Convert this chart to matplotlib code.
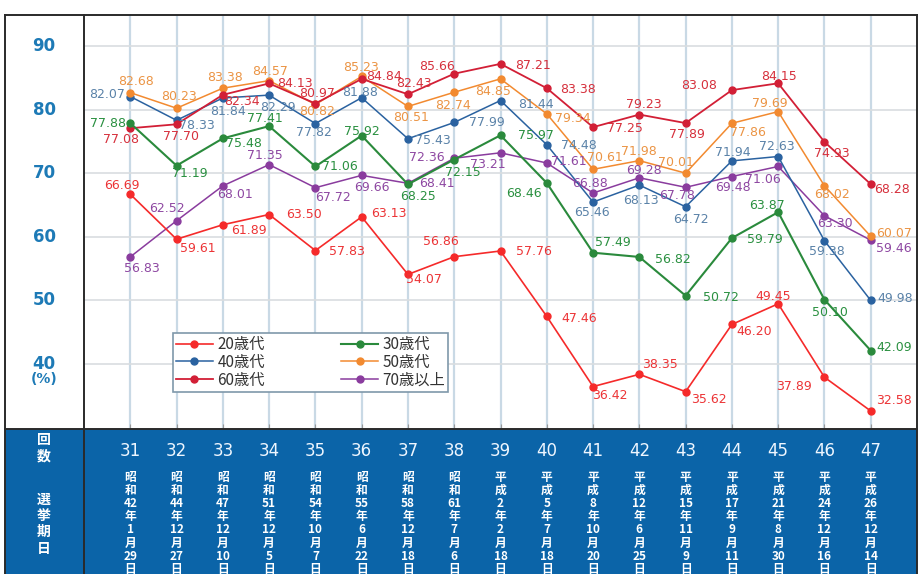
''' 年代別投票率の推移 (衆議院議員総選挙) '''
import matplotlib.pyplot as plt
from matplotlib.patches import Rectangle
from matplotlib.lines import Line2D
from matplotlib.transforms import blended_transform_factory

plt.rcParams['font.family'] = ['DejaVu Sans', 'Noto Sans CJK JP']
JP = ['Noto Sans CJK JP', 'DejaVu Sans']

# data
rounds = list(range(31, 48))
eras = ['昭和'] * 8 + ['平成'] * 9
years = [42, 44, 47, 51, 54, 55, 58, 61, 2, 5, 8, 12, 15, 17, 21, 24, 26]
months = [1, 12, 12, 12, 10, 6, 12, 7, 2, 7, 10, 6, 11, 9, 8, 12, 12]
days = [29, 27, 10, 5, 7, 22, 18, 6, 18, 18, 20, 25, 9, 11, 30, 16, 14]

age20 = [66.69, 59.61, 61.89, 63.50, 57.83, 63.13, 54.07, 56.86, 57.76,
         47.46, 36.42, 38.35, 35.62, 46.20, 49.45, 37.89, 32.58]
age30 = [77.88, 71.19, 75.48, 77.41, 71.06, 75.92, 68.25, 72.15, 75.97,
         68.46, 57.49, 56.82, 50.72, 59.79, 63.87, 50.10, 42.09]
age40 = [82.07, 78.33, 81.84, 82.29, 77.82, 81.88, 75.43, 77.99, 81.44,
         74.48, 65.46, 68.13, 64.72, 71.94, 72.63, 59.38, 49.98]
age50 = [82.68, 80.23, 83.38, 84.57, 80.82, 85.23, 80.51, 82.74, 84.85,
         79.34, 70.61, 71.98, 70.01, 77.86, 79.69, 68.02, 60.07]
age60 = [77.08, 77.70, 82.34, 84.13, 80.97, 84.84, 82.43, 85.66, 87.21,
         83.38, 77.25, 79.23, 77.89, 83.08, 84.15, 74.93, 68.28]
age70 = [56.83, 62.52, 68.01, 71.35, 67.72, 69.66, 68.41, 72.36, 73.21,
         71.61, 66.88, 69.28, 67.78, 69.48, 71.06, 63.30, 59.46]

yticks = [40, 50, 60, 70, 80, 90]

# label offsets in pixels (dx right, dy down)
offs = {
    '20歳代': [(-8, -9), (21, 9), (26, 6), (35, 0), (32, 1), (27, -3), (16, 5), (-13, -15),
              (33, 1), (32, 2), (17, 9), (21, -10), (23, 8), (22, 7), (-5, -7), (-30, 9), (23, -10)],
    '30歳代': [(-22, 0), (13, 8), (21, 5), (-4, -8), (24, 0), (0, -4), (10, 12), (9, 13),
              (35, 0), (-23, 11), (20, -10), (34, 3), (35, 2), (33, 1), (-11, -7), (5, 13), (23, -3)],
    '40歳代': [(-23, -2), (20, 5), (5, 14), (9, 12), (-1, 9), (-2, -5), (25, 2), (33, 0),
              (35, 4), (32, 1), (-1, 10), (2, 15), (5, 13), (1, -8), (-1, -10), (2, 11), (24, -2)],
    '50歳代': [(6, -11), (2, -12), (2, -11), (1, -9), (2, 7), (-1, -9), (3, 11), (-1, 13),
              (-7, 13), (26, 5), (12, -12), (0, -9), (-10, -11), (16, 9), (-8, -8), (8, 9), (23, -3)],
    '60歳代': [(-9, 11), (4, 12), (19, 7), (26, 0), (2, -10), (22, -2), (6, -11), (-17, -7),
              (32, 2), (31, 1), (32, 1), (4, -10), (1, 11), (-33, -5), (1, -7), (7, 12), (21, 5)],
    '70歳以上': [(12, 12), (-10, -12), (12, 9), (-4, -9), (18, 10), (10, 12), (29, 0), (-27, -1),
               (-13, 12), (22, -1), (-3, -10), (5, -7), (-9, 8), (1, 11), (-15, 13), (10, 8), (23, 8)],
}

series = [
    ('70歳以上', age70, '#8a3c9e', '#8e48a2', 1.1),
    ('40歳代', age40, '#2a62a0', '#5a82a8', 1.1),
    ('50歳代', age50, '#f28a30', '#eb9444', 1.1),
    ('60歳代', age60, '#d21f36', '#d6303c', 1.3),
    ('30歳代', age30, '#2a8a3c', '#2a9040', 1.5),
    ('20歳代', age20, '#f52a2a', '#ec3436', 1.2),
]

W, H = 922, 574
fig = plt.figure(figsize=(9.22, 5.74), dpi=100)


def fx(px):
    return px / W


def fy(py):
    return 1 - py / H


ax = fig.add_axes([fx(84), fy(428), fx(917) - fx(84), fy(15) - fy(428)])
x = list(range(len(rounds)))

lines = {}
for name, vals, col, lcol, lw in series:
    ln, = ax.plot(x, vals, color=col, lw=lw, marker='o', ms=5, label=name, zorder=3)
    lines[name] = ln
    for i, v in enumerate(vals):
        dx, dy = offs[name][i]
        ax.annotate(f'{v:.2f}', (i, v), xytext=(dx, -dy), textcoords='offset pixels',
                    ha='center', va='center', fontsize=9, color=lcol, zorder=4)

ax.set_xlim(-1, 17)
ax.set_ylim(29.9, 94.9)
ax.set_xticks(x)
ax.set_yticks(yticks)
ax.xaxis.grid(True, color='#c9d9e5', lw=1.6)
ax.yaxis.grid(True, color='#d9dde0', lw=1.2)
ax.set_axisbelow(True)
ax.tick_params(axis='x', direction='in', length=3, color='#999999', labelbottom=False)
ax.tick_params(axis='y', length=0, labelleft=False)
for s in ax.spines.values():
    s.set_visible(False)

# y labels in left column
ty = blended_transform_factory(fig.transFigure, ax.transData)
for v in yticks:
    fig.text(fx(44), v, str(v), transform=ty, ha='center', va='center',
             fontsize=12, fontweight='bold', color='#1d7ab6')
fig.text(fx(44), fy(379), '(%)', ha='center', va='center',
         fontsize=10, fontweight='bold', color='#1d7ab6')

# legend
order = ['20歳代', '40歳代', '60歳代', '30歳代', '50歳代', '70歳以上']
leg = ax.legend([lines[n] for n in order], order, ncol=2, loc='upper left',
                bbox_to_anchor=(fx(173), fy(333)), bbox_transform=fig.transFigure,
                prop={'family': JP, 'size': 11}, fancybox=False, framealpha=1,
                edgecolor='#7f98aa', borderpad=0.2, labelspacing=0.05,
                handlelength=2.4, handletextpad=0.3, columnspacing=5.0, borderaxespad=0)
leg.get_frame().set_linewidth(1.2)
for t in leg.get_texts():
    t.set_color('#333333')

# bottom band
fig.add_artist(Rectangle((fx(5), 0), fx(917) - fx(5), fy(429), transform=fig.transFigure,
                         facecolor='#0b64a8', edgecolor='none', zorder=0))
tb = blended_transform_factory(ax.transData, fig.transFigure)
for i, r in enumerate(rounds):
    fig.text(i, fy(451), str(r), transform=tb, ha='center', va='center',
             fontsize=12, color='#eef6ff')
    tokens = [eras[i][0], eras[i][1], str(years[i]), '年', str(months[i]), '月', str(days[i]), '日']
    for k, tok in enumerate(tokens):
        fig.text(i, fy(477 + k * 13.2), tok, transform=tb, ha='center', va='center',
                 fontsize=8.5, fontweight='bold', color='white', family=JP)

for k, ch in enumerate('回数'):
    fig.text(fx(44), fy(440 + k * 16), ch, ha='center', va='center', fontsize=10,
             fontweight='bold', color='white', family=JP)
for k, ch in enumerate('選挙期日'):
    fig.text(fx(44), fy(500 + k * 16.2), ch, ha='center', va='center', fontsize=10,
             fontweight='bold', color='white', family=JP)

# frame lines
frame = [((5, 15), (917, 15)), ((5, 15), (5, 574)), ((917, 15), (917, 574)),
         ((84, 15), (84, 574)), ((5, 429), (917, 429))]
for (x0, y0), (x1, y1) in frame:
    fig.add_artist(Line2D([fx(x0), fx(x1)], [fy(y0), fy(y1)], transform=fig.transFigure,
                          color='#2a2a2a', lw=1.4))

fig.savefig('out.png', dpi=100)
